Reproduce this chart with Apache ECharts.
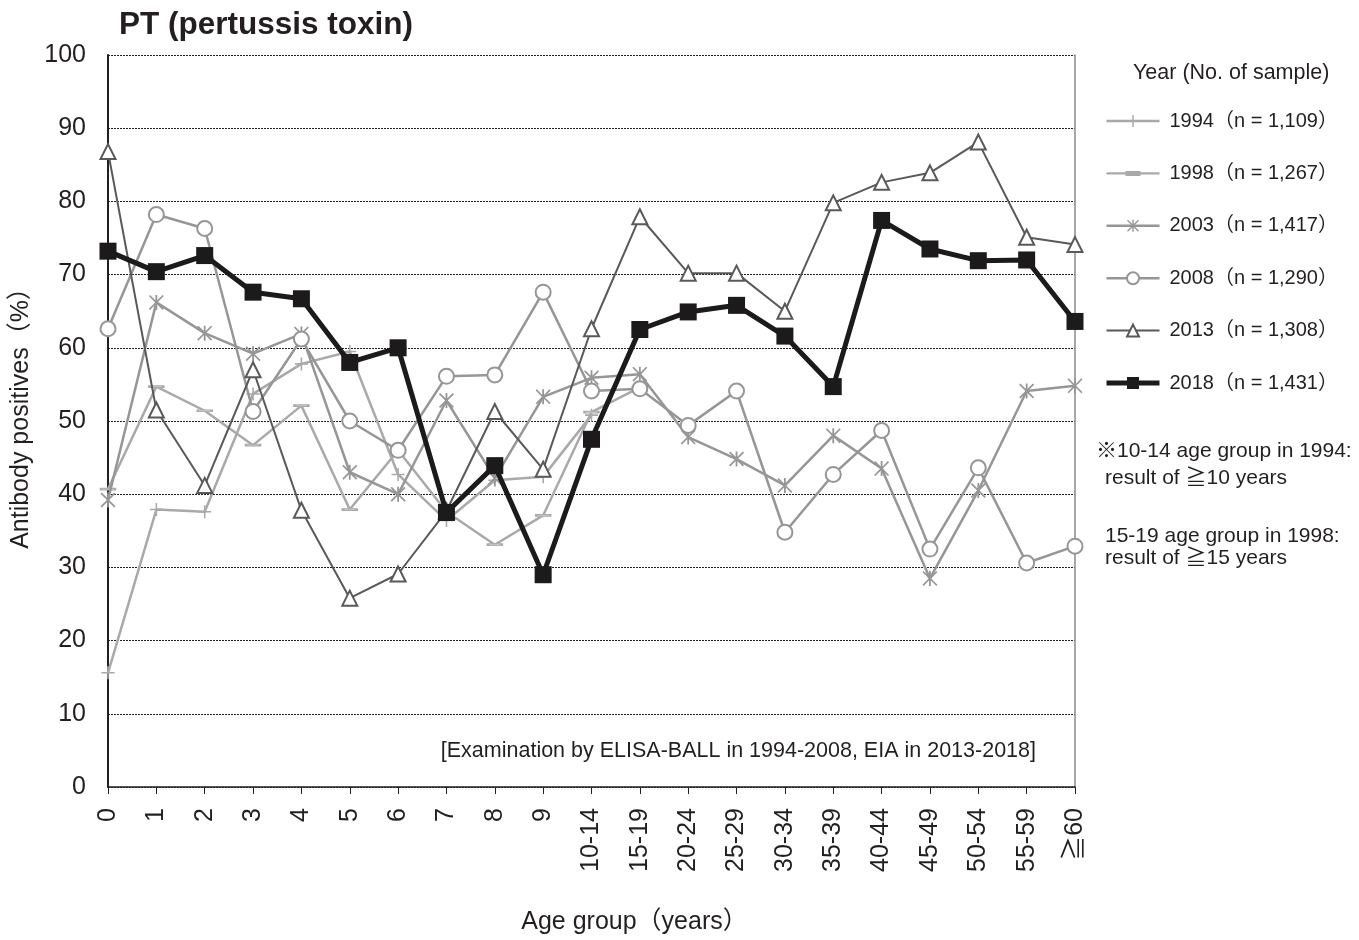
<!DOCTYPE html>
<html>
<head>
<meta charset="utf-8">
<script src="https://cdn.jsdelivr.net/npm/echarts@6/dist/echarts.min.js"></script>
<style>
  html, body { margin: 0; padding: 0; background: #fff; }
  #chart { width: 1359px; height: 940px; }
</style>
</head>
<body>
<div id="chart"></div>
<script>
// Age groups on the horizontal axis
const ageGroups = ['0', '1', '2', '3', '4', '5', '6', '7', '8', '9',
  '10-14', '15-19', '20-24', '25-29', '30-34', '35-39', '40-44', '45-49', '50-54', '55-59', '≧60'];

// Antibody positive rate (%) per survey year
const y1994 = [15.6, 37.9, 37.6, 53.7, 57.8, 59.5, 42.7, 36.4, 41.9, 42.4, 50.8,
  null, null, null, null, null, null, null, null, null, null];
const y1998 = [40.7, 54.7, 51.4, 46.7, 52.1, 37.9, 46.0, 37.6, 33.1, 37.1, 51.2, 54.6,
  null, null, null, null, null, null, null, null, null];
const y2003 = [39.2, 66.2, 62.0, 59.2, 61.9, 43.0, 40.0, 52.8, 42.2, 53.3, 55.9, 56.4,
  47.8, 44.8, 41.2, 48.0, 43.5, 28.5, 40.5, 54.1, 54.8];
const y2008 = [62.6, 78.2, 76.3, 51.3, 61.2, 50.0, 46.0, 56.1, 56.3, 67.6, 54.1, 54.4,
  49.4, 54.1, 34.8, 42.7, 48.7, 32.5, 43.6, 30.6, 32.9];
const y2013 = [86.8, 51.5, 41.2, 57.0, 37.8, 25.8, 29.1, 37.7, 51.3, 43.4, 62.6, 77.9,
  70.2, 70.2, 65.0, 79.8, 82.6, 83.9, 88.1, 75.1, 74.1];
const y2018 = [73.2, 70.4, 72.6, 67.6, 66.7, 58.0, 60.0, 37.5, 43.9, 29.0, 47.5, 62.5,
  64.9, 65.8, 61.6, 54.7, 77.4, 73.5, 71.9, 72.0, 63.6];

const seriesNames = ['1994（n = 1,109）', '1998（n = 1,267）', '2003（n = 1,417）',
  '2008（n = 1,290）', '2013（n = 1,308）', '2018（n = 1,431）'];

const yTicks = { min: 0, max: 100, step: 10 };

const FONT = "Arial, 'Liberation Sans', 'Noto Sans CJK JP', sans-serif";
const INK = '#231f20';

// marker shapes
const plusPath = 'path://M4.4,0H5.6V4.4H10V5.6H5.6V10H4.4V5.6H0V4.4H4.4Z';
const starPath = 'path://M4.4,0H5.6V10H4.4Z M0.8,0L5,4.2L9.2,0L10,0.8L5.8,5L10,9.2L9.2,10L5,5.8L0.8,10L0,9.2L4.2,5L0,0.8Z';
const dashPath = 'path://M0,0H14V5H0Z';
// legend key for the dash-marker series: line with a short bar in the middle
const dashLegendIcon = 'path://M0,0L0.01,0L0,0.01Z M53,15L52.99,15L53,14.99Z M0,6.3H53V8.7H0Z M19,5H34V10H19Z';

function lineSeries(name, data, opts) {
  return Object.assign({
    name: name,
    type: 'line',
    data: data,
    connectNulls: false,
    animation: false,
    emphasis: { disabled: true }
  }, opts);
}

const legendWidths = [2.5, 2.5, 2.5, 2.5, 2, 5];

const legendData = seriesNames.map((n, i) => {
  const item = { name: n, lineStyle: { width: legendWidths[i] } };
  if (i === 1) {
    item.icon = dashLegendIcon;
    item.itemStyle = { color: '#a9a9a9', borderWidth: 0 };
  }
  return item;
});

const chart = echarts.init(document.getElementById('chart'), null, { renderer: 'canvas' });

chart.setOption({
  backgroundColor: '#ffffff',
  textStyle: { fontFamily: FONT },
  title: {
    text: 'PT (pertussis toxin)',
    left: 114,
    top: 5,
    textStyle: { fontFamily: FONT, fontSize: 31.5, fontWeight: 'bold', color: INK }
  },
  grid: { left: 108, right: 284, top: 55, bottom: 150, containLabel: false },
  legend: {
    orient: 'vertical',
    left: 1099,
    top: 106,
    itemWidth: 53,
    itemHeight: 15,
    itemGap: 32.4,
    selectedMode: false,
    data: legendData,
    textStyle: { fontFamily: FONT, fontSize: 20, color: INK, lineHeight: 20, padding: [0, 0, 0, 5] }
  },
  xAxis: {
    type: 'category',
    data: ageGroups,
    boundaryGap: false,
    name: 'Age group（years）',
    nameLocation: 'middle',
    nameGap: 123,
    nameTextStyle: { fontFamily: FONT, fontSize: 25, color: INK, padding: [0, 0, 0, 86] },
    axisLine: { show: true, lineStyle: { color: INK, width: 1.5 } },
    axisTick: { show: true, inside: false, length: 7, lineStyle: { color: INK, width: 1 } },
    axisLabel: { rotate: 90, interval: 0, fontSize: 25, color: INK, margin: 21, fontFamily: FONT },
    splitLine: { show: false }
  },
  yAxis: [{
    type: 'value',
    min: yTicks.min,
    max: yTicks.max,
    interval: yTicks.step,
    name: 'Antibody positives（%）',
    nameLocation: 'middle',
    nameRotate: 90,
    nameGap: 73,
    nameTextStyle: { fontFamily: FONT, fontSize: 25, color: INK, padding: [0, 0, 0, 18] },
    axisLine: { show: true, lineStyle: { color: INK, width: 2 } },
    axisTick: { show: false },
    axisLabel: { fontSize: 25, color: INK, margin: 22, fontFamily: FONT },
    splitLine: { show: true, lineStyle: { color: INK, width: 1, type: [2, 1] } }
  }, {
    type: 'value',
    position: 'right',
    min: yTicks.min,
    max: yTicks.max,
    interval: yTicks.step,
    axisLine: { show: true, lineStyle: { color: '#8a8a8a', width: 1.5 } },
    axisTick: { show: false },
    axisLabel: { show: false },
    splitLine: { show: false }
  }],
  series: [
    lineSeries(seriesNames[0], y1994, {
      symbol: plusPath, symbolSize: 13, symbolKeepAspect: true,
      lineStyle: { color: '#a9a9a9', width: 2.5 },
      itemStyle: { color: '#a9a9a9' }, z: 2
    }),
    lineSeries(seriesNames[1], y1998, {
      symbol: dashPath, symbolSize: [14, 5], symbolKeepAspect: true,
      lineStyle: { color: '#a9a9a9', width: 2.5 },
      itemStyle: { color: '#cdcdcd', borderColor: '#a9a9a9', borderWidth: 1.5 }, z: 3
    }),
    lineSeries(seriesNames[2], y2003, {
      symbol: starPath, symbolSize: 15, symbolKeepAspect: true,
      lineStyle: { color: '#969696', width: 2.5 },
      itemStyle: { color: '#969696' }, z: 4
    }),
    lineSeries(seriesNames[3], y2008, {
      symbol: 'emptyCircle', symbolSize: 15,
      lineStyle: { color: '#969696', width: 2.5 },
      itemStyle: { color: '#969696', borderWidth: 1.6 }, z: 5
    }),
    lineSeries(seriesNames[4], y2013, {
      symbol: 'emptyTriangle', symbolSize: 15,
      lineStyle: { color: '#595959', width: 2 },
      itemStyle: { color: '#595959', borderWidth: 1.6 }, z: 6
    }),
    lineSeries(seriesNames[5], y2018, {
      symbol: 'rect', symbolSize: 17,
      lineStyle: { color: '#1c1a1a', width: 5 },
      itemStyle: { color: '#1c1a1a' }, z: 7
    })
  ],
  graphic: [
    { type: 'text', left: 1133, top: 62,
      style: { text: 'Year (No. of sample)', font: '21.5px ' + FONT, fill: INK } },
    { type: 'text', left: 1096, top: 441,
      style: { text: '※10-14 age group in 1994:', font: '21px ' + FONT, fill: INK } },
    { type: 'text', left: 1105, top: 468,
      style: { text: 'result of ≧10 years', font: '21px ' + FONT, fill: INK } },
    { type: 'text', left: 1105, top: 526,
      style: { text: '15-19 age group in 1998:', font: '21px ' + FONT, fill: INK } },
    { type: 'text', left: 1105, top: 548,
      style: { text: 'result of ≧15 years', font: '21px ' + FONT, fill: INK } },
    { type: 'text', right: 323, top: 740,
      style: { text: '[Examination by ELISA-BALL in 1994-2008, EIA in 2013-2018]', font: '21.5px ' + FONT, fill: INK } }
  ]
});
</script>
</body>
</html>
